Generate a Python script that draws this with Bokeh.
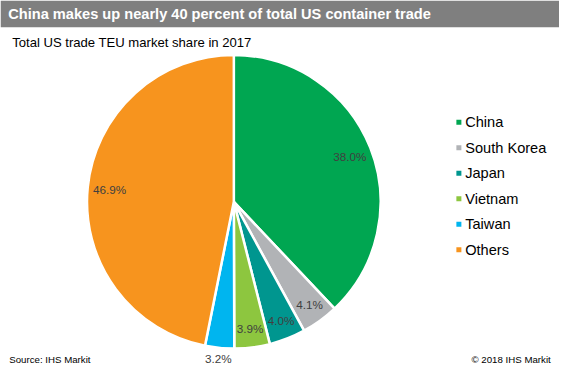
import math
from bokeh.plotting import figure
from bokeh.models import Range1d, ColumnDataSource
from bokeh.core.properties import value
from bokeh.embed import file_html
from bokeh.resources import INLINE

# ---- data ----
title_text = "China makes up nearly 40 percent of total US container trade"
subtitle_text = "Total US trade TEU market share in 2017"
source_text = "Source: IHS Markit"
copyright_text = "\u00a9 2018 IHS Markit"
categories = ["China", "South Korea", "Japan", "Vietnam", "Taiwan", "Others"]
shares = [38.0, 4.1, 4.0, 3.9, 3.2, 46.9]
colors = ["#00A651", "#B1B3B6", "#00968F", "#8DC63F", "#00B5EF", "#F7941E"]

# ---- layout (reference pixel space, y measured downward then flipped) ----
W, H = 575, 387
PW, PH = 559, 371
sx = PW / W

p = figure(width=PW, height=PH, output_backend="svg", toolbar_location=None,
           x_range=Range1d(0, W), y_range=Range1d(0, H), min_border=0)
p.axis.visible = False
p.grid.visible = False
p.outline_line_color = None
p.background_fill_color = "white"

def Y(v):
    return H - v

FONT = value("Liberation Sans")

# header bar
p.quad(left=[0], right=[W], top=[Y(0)], bottom=[Y(28)], fill_color="#7F7F7F", line_color=None)
p.text(x=[8], y=[Y(14.5)], text=[title_text], text_color="white", text_font=FONT,
       text_font_style="bold", text_font_size=f"{15*sx:.1f}px", text_baseline="middle")
p.text(x=[12], y=[Y(44)], text=[subtitle_text], text_color="black", text_font=FONT,
       text_font_size=f"{13.5*sx:.1f}px", text_baseline="middle")

# pie
cx, cy, R = 240, 210, 151
total = sum(shares)
starts, ends, lx, ly, ltxt = [], [], [], [], []
cum = 0.0
for s in shares:
    f0 = cum / total
    cum += s
    f1 = cum / total
    starts.append(math.pi / 2 - 2 * math.pi * f1)
    ends.append(math.pi / 2 - 2 * math.pi * f0)
    mid = (f0 + f1) / 2 * 2 * math.pi
    r = R * (1.085 if s < 3.5 else (0.88 if s < 10 else 0.85))
    lx.append(cx + r * math.sin(mid))
    ly.append(Y(cy) + r * math.cos(mid))
    ltxt.append(f"{s:.1f}%")

src = ColumnDataSource(dict(start=starts, end=ends, color=colors))
p.wedge(x=cx, y=Y(cy), radius=R, start_angle="start", end_angle="end",
        fill_color="color", line_color="white", line_width=2.5, source=src)
p.text(x=lx, y=ly, text=ltxt, text_color="#404040", text_font=FONT,
       text_font_size=f"{12*sx:.1f}px", text_align="center", text_baseline="middle")

# legend
leg_y = [127 + i * 26.6 for i in range(len(categories))]
p.scatter(x=[471.5] * len(categories), y=[Y(v) for v in leg_y], marker="square",
          size=5, fill_color=colors, line_color=None)
p.text(x=[478] * len(categories), y=[Y(v) for v in leg_y], text=categories,
       text_color="black", text_font=FONT, text_font_size=f"{15*sx:.1f}px",
       text_baseline="middle")

# footer
p.text(x=[9], y=[Y(375)], text=[source_text], text_color="black", text_font=FONT,
       text_font_size=f"{10*sx:.1f}px", text_baseline="middle")
p.text(x=[566], y=[Y(375)], text=[copyright_text], text_color="black", text_font=FONT,
       text_font_size=f"{10*sx:.1f}px", text_baseline="middle", text_align="right")

open("out.html", "w").write(file_html(p, INLINE))
